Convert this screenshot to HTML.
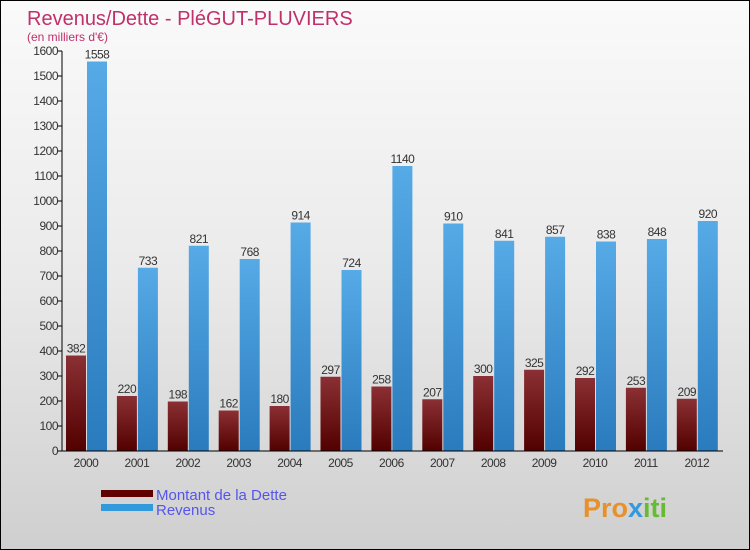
<!DOCTYPE html>
<html><head><meta charset="utf-8"><style>
body{margin:0}
#c{width:750px;height:550px;position:relative;overflow:hidden;box-sizing:border-box;border:1px solid #000;background:linear-gradient(#fafafa,#eaeaea 50%,#cfcfcf);font-family:"Liberation Sans",sans-serif}
</style></head><body>
<div id="c">
<svg width="750" height="550" id="svg">
<defs>
<linearGradient id="gr" x1="0" y1="0" x2="0" y2="1"><stop offset="0" stop-color="#8b3034"/><stop offset="1" stop-color="#520000"/></linearGradient>
<linearGradient id="gb" x1="0" y1="0" x2="0" y2="1"><stop offset="0" stop-color="#56aae6"/><stop offset="1" stop-color="#2a7bbd"/></linearGradient>
</defs>
<text x="26" y="24" font-size="20" fill="#c0306a">Revenus/Dette - PléGUT-PLUVIERS</text>
<text x="26" y="40" font-size="12" fill="#c0306a">(en milliers d'€)</text>
<g id="plot"></g>
<rect x="100" y="489" width="52" height="7" fill="#600000"/>
<rect x="100" y="503" width="52" height="7" fill="#3399dd"/>
<text x="155" y="499" font-size="15" fill="#5555ee">Montant de la Dette</text>
<text x="155" y="514" font-size="15" fill="#5555ee">Revenus</text>
<text x="582" y="516" font-size="27" font-weight="bold" fill="#e8902a">Pro<tspan fill="#3399dd">x</tspan><tspan fill="#66bb33">iti</tspan></text>
</svg>
</div>
<script>
const years=["2000","2001","2002","2003","2004","2005","2006","2007","2008","2009","2010","2011","2012"];
const dette=[382,220,198,162,180,297,258,207,300,325,292,253,209];
const revenus=[1558,733,821,768,914,724,1140,910,841,857,838,848,920];
const ticks=[0,100,200,300,400,500,600,700,800,900,1000,1100,1200,1300,1400,1500,1600];
const NS="http://www.w3.org/2000/svg";
const g=document.getElementById('plot');
const y=v=>450-v*0.25;
const x=i=>65+i*50.9;
function mk(t,a,txt){const e=document.createElementNS(NS,t);for(const k in a)e.setAttribute(k,a[k]);if(txt!=null)e.textContent=txt;g.appendChild(e);return e;}
ticks.forEach(t=>{
 const l=mk('line',{x1:57,x2:61,y1:y(t),y2:y(t),stroke:'#000'});
 
 
 const tx=mk('text',{x:57,y:y(t)+4,'font-size':12,'text-anchor':'end',fill:'#333','letter-spacing':'-0.5'},t);
 
 
});
years.forEach((yr,i)=>{
 const r=mk('rect',{x:x(i),y:y(dette[i]),width:20,height:450-y(dette[i]),fill:'url(#gr)'});
 
 
 const b=mk('rect',{x:x(i)+21,y:y(revenus[i]),width:20,height:450-y(revenus[i]),fill:'url(#gb)'});
 
 
 const t1=mk('text',{x:x(i)+10,y:y(dette[i])-3,'font-size':12,'text-anchor':'middle',fill:'#333','letter-spacing':'-0.5'},dette[i]);
 
 
 const t2=mk('text',{x:x(i)+31,y:y(revenus[i])-3,'font-size':12,'text-anchor':'middle',fill:'#333','letter-spacing':'-0.5'},revenus[i]);
 
 
 const xl=mk('text',{x:x(i)+20,y:466,'font-size':12,'text-anchor':'middle',fill:'#333','letter-spacing':'-0.5'},yr);
 
 
});
const ya=mk('line',{x1:61,x2:61,y1:50,y2:450,stroke:'#000'});


const xa=mk('line',{x1:61,x2:722,y1:450,y2:450,stroke:'#000'});


</script>
</body></html>
